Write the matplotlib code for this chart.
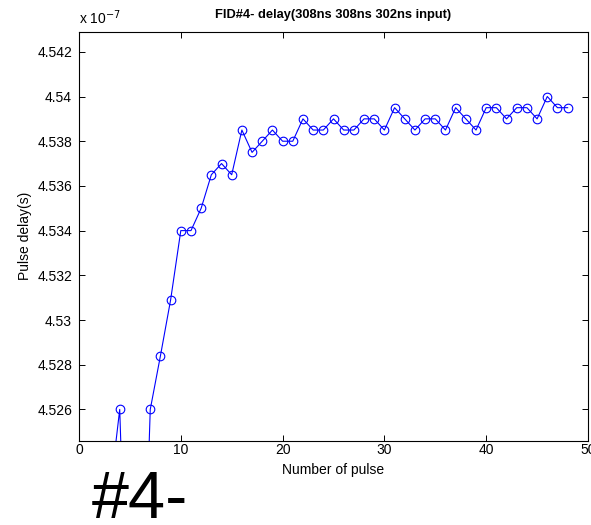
import matplotlib.pyplot as plt
from matplotlib.ticker import FixedLocator, FuncFormatter

plt.rcParams['font.family'] = ['Liberation Sans', 'DejaVu Sans']

# pulse number and measured delay (in units of 1e-7 s)
pulse = list(range(1, 49))
delay = [4.510, 4.515, 4.5221, 4.526, 4.512, 4.512, 4.526, 4.5284, 4.5309, 4.534,
         4.534, 4.535, 4.5365, 4.537, 4.5365, 4.5385, 4.5375, 4.538, 4.5385, 4.538,
         4.538, 4.539, 4.5385, 4.5385, 4.539, 4.5385, 4.5385, 4.539, 4.539, 4.5385,
         4.5395, 4.539, 4.5385, 4.539, 4.539, 4.5385, 4.5395, 4.539, 4.5385, 4.5395,
         4.5395, 4.539, 4.5395, 4.5395, 4.539, 4.540, 4.5395, 4.5395]

yticks = [4.526, 4.528, 4.53, 4.532, 4.534, 4.536, 4.538, 4.54, 4.542]
xticks = [0, 10, 20, 30, 40, 50]

fig = plt.figure(figsize=(5.91, 5.25), dpi=100)
ax = fig.add_axes([79 / 591, 1 - 440.7 / 525, (588 - 79) / 591, (440.7 - 31.7) / 525])

ax.plot(pulse, delay, color='#0000ff', lw=0.8, marker='o', ms=6.2,
        mfc='none', mec='#0000ff', mew=0.8)

ax.set_xlim(0, 50)
ax.set_ylim(4.5246, 4.5429)
ax.xaxis.set_major_locator(FixedLocator(xticks))
ax.yaxis.set_major_locator(FixedLocator(yticks))
ax.yaxis.set_major_formatter(FuncFormatter(lambda v, p: ('%.3f' % v).rstrip('0')))
ax.tick_params(direction='in', length=4, width=0.7, top=True, right=True,
               labelsize=10, colors='black')
ax.tick_params(axis='x', pad=2)
ax.tick_params(axis='y', pad=5)
for s in ax.spines.values():
    s.set_linewidth(0.8)

ax.set_xlabel('Number of pulse', fontsize=10, labelpad=4)
ax.set_ylabel('Pulse delay(s)', fontsize=10, labelpad=4)
ax.set_title('FID#4- delay(308ns 308ns 302ns input)', fontsize=9.3,
             fontweight='bold', pad=10)

fig.text(79 / 591, 1 - 24 / 525, r'x 10$^{-7}$', fontsize=10, ha='left', va='baseline')
fig.text(92 / 591, 1 - 518 / 525, '#4-', fontsize=48, ha='left', va='baseline')

fig.savefig('out.png', dpi=100)
